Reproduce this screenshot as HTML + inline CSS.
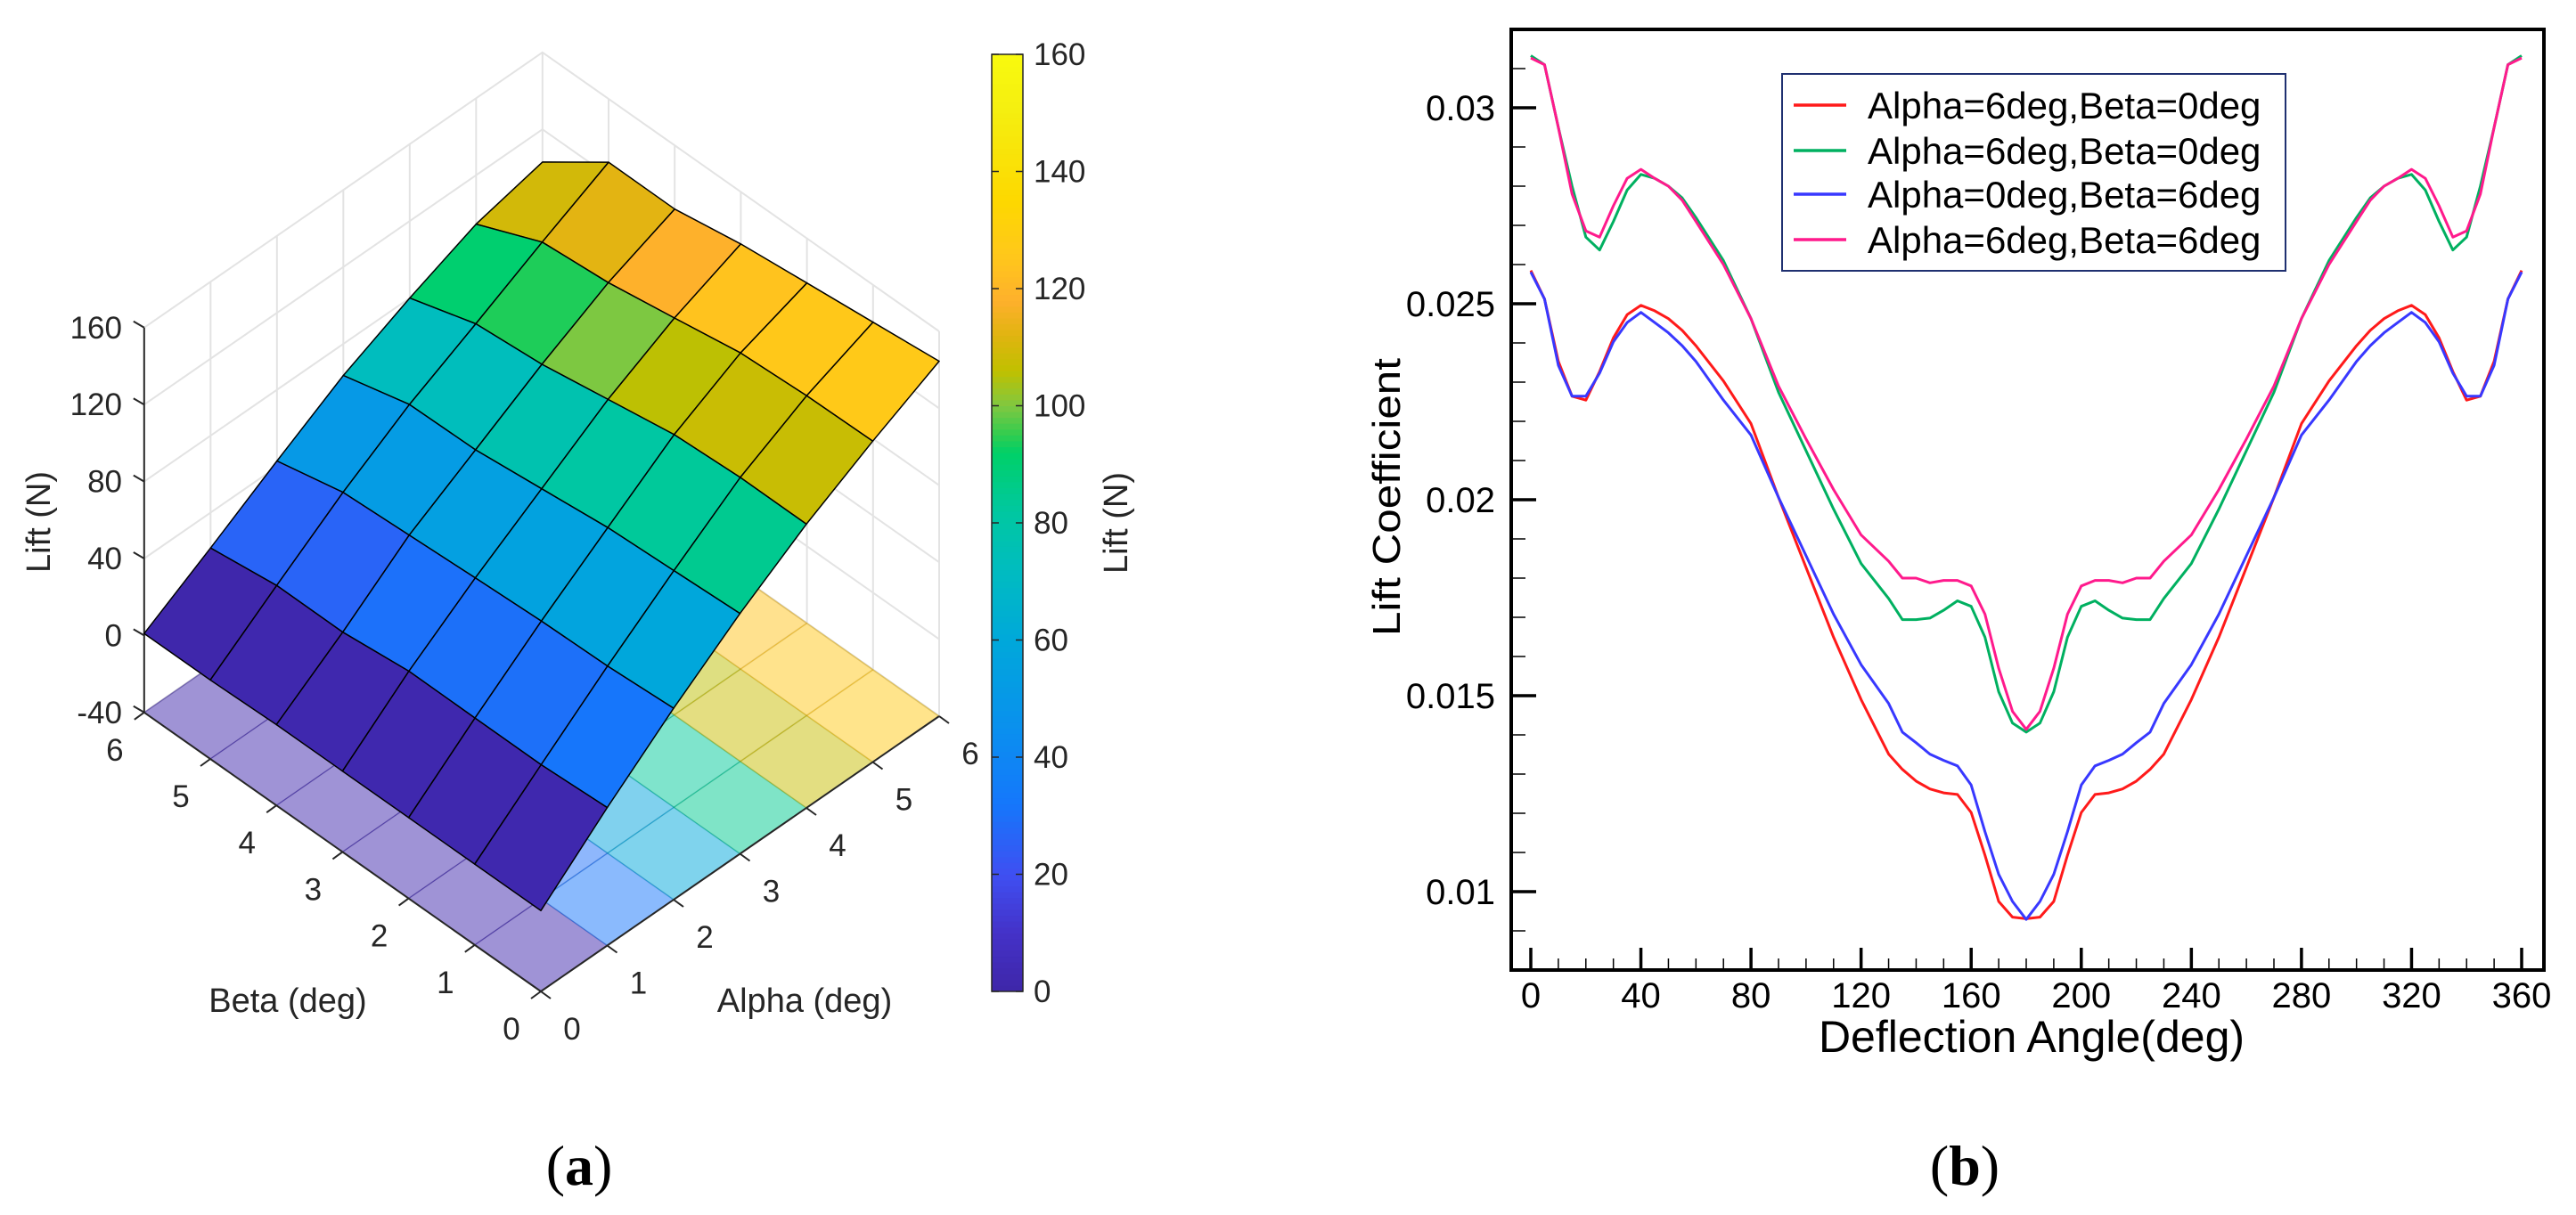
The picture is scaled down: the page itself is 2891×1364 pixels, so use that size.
<!DOCTYPE html>
<html><head><meta charset="utf-8"><style>
html,body{margin:0;padding:0;background:#fff;}
svg{display:block;}
text{font-family:"Liberation Sans",Arial,sans-serif;}
</style></head>
<body>
<svg id="fig" width="2891" height="1364" viewBox="0 0 2891 1364" xmlns="http://www.w3.org/2000/svg">
<rect width="2891" height="1364" fill="#fff"/>
<g id="pa"></g>
<g id="pb"></g>
<text x="650" y="1330" text-anchor="middle" font-family="Liberation Serif, serif" font-size="64" style="font-family:'Liberation Serif',serif">(<tspan font-weight="bold">a</tspan>)</text>
<text x="2205" y="1330" text-anchor="middle" font-size="64" style="font-family:'Liberation Serif',serif">(<tspan font-weight="bold">b</tspan>)</text>
</svg>
<script>
// ---------- Panel (a) data ----------
const alphaVals = [0,1,2,3,4,5,6];
const betaVals = [0,1,2,3,4,5,6];
// liftGrid[alphaIndex][betaIndex]
const liftGrid0 = [2,2,2,2,2,1,1];
const liftGrid1 = [31.7,29.8,29.9,30.1,26.2,26.3,21.6];
const liftGrid2 = [59.5,57.2,56.5,54.7,52.8,50.9,43];
const liftGrid3 = [84.9,83,81.2,77.2,73.3,72.7,63.6];
const liftGrid4 = [107.5,107.6,105.7,99.8,93.9,90.8,80];
const liftGrid5 = [126.8,126.2,124.3,118.3,112.5,109.4,94.6];
const liftGrid6 = [144.5,140.6,136.8,132.9,126.9,127.1,103];
const liftGrid = [liftGrid0,liftGrid1,liftGrid2,liftGrid3,liftGrid4,liftGrid5,liftGrid6];
const zTicks = [-40,0,40,80,120,160];
const cbTicks = [0,20,40,60,80,100,120,140,160];
const cmapVals = [0,10,20,32,45,60,72,82,92,95,100,106,112,118,126,135,150,160];
const cmapCols = ['#3e26a8','#4432c8','#3f4ff2','#1577fb','#0a90ee','#00a8da','#00bcc0','#00c8a0','#00d068','#30cc50','#80c840','#c0c000','#e0b410','#feb02c','#ffc81a','#fdd800','#f5ee10','#f8fa0e'];

// ---------- Panel (b) data ----------
const angles = [0,5,10,15,20,25,30,35,40,45,50,55,60,70,80,90,100,110,120,130,135,140,145,150,155,160,165,170,175,180,185,190,195,200,205,210,215,220,225,230,240,250,260,270,280,290,300,305,310,315,320,325,330,335,340,345,350,355,360];
const redA6B0 = [.02585,.02512,.02353,.02264,.02254,.02327,.02413,.02472,.02496,.02482,.02462,.02432,.02393,.02303,.02194,.02006,.01827,.01649,.0149,.01351,.01312,.01282,.01262,.01252,.01248,.01202,.01093,.00975,.00935,.00931,.00935,.00975,.01093,.01202,.01248,.01252,.01262,.01282,.01312,.01351,.0149,.01649,.01827,.02006,.02194,.02303,.02393,.02432,.02462,.02482,.02496,.02472,.02413,.02327,.02254,.02264,.02353,.02512,.02585];
const greenA6B0 = [.03133,.0311,.0295,.0280,.0267,.02637,.0271,.0279,.0283,.0282,.0280,.0277,.0272,.0261,.02462,.02274,.02125,.01976,.01837,.01748,.01694,.01694,.01698,.01718,.01742,.01728,.01649,.0151,.0143,.01407,.0143,.0151,.01649,.01728,.01742,.01718,.01698,.01694,.01694,.01748,.01837,.01976,.02125,.02274,.02462,.0261,.0272,.0277,.0280,.0282,.0283,.0279,.0271,.02637,.0267,.0280,.0295,.0311,.03133];
const blueA0B6 = [.02581,.02512,.02343,.02264,.02264,.02323,.02403,.02452,.02478,.02452,.02426,.02393,.02353,.02254,.02165,.02006,.01857,.01708,.01579,.0148,.01407,.0138,.01351,.01335,.01321,.01272,.01153,.01044,.00975,.00929,.00975,.01044,.01153,.01272,.01321,.01335,.01351,.0138,.01407,.0148,.01579,.01708,.01857,.02006,.02165,.02254,.02353,.02393,.02426,.02452,.02478,.02452,.02403,.02323,.02264,.02264,.02343,.02512,.02581];
const pinkA6B6 = [.03127,.0311,.0295,.0278,.02686,.0267,.0275,.0282,.02843,.0282,.0280,.02764,.0271,.0260,.02462,.0229,.02155,.02026,.0191,.01843,.0180,.0180,.01788,.01794,.01794,.0178,.01708,.0157,.0146,.01414,.0146,.0157,.01708,.0178,.01794,.01794,.01788,.0180,.0180,.01843,.0191,.02026,.02155,.0229,.02462,.0260,.0271,.02764,.0280,.0282,.02843,.0282,.0275,.0267,.02686,.0278,.0295,.0311,.03127];
const xTicks = [0,40,80,120,160,200,240,280,320,360];
const yTicks = [0.01,0.015,0.02,0.025,0.03];
const yTickLabels = ['0.01','0.015','0.02','0.025','0.03'];
const legendLabels = ['Alpha=6deg,Beta=0deg','Alpha=6deg,Beta=0deg','Alpha=0deg,Beta=6deg','Alpha=6deg,Beta=6deg'];
const seriesColors = ['#ff1a1a','#00b060','#3838ff','#ff1a8c'];

const NS='http://www.w3.org/2000/svg';
function mk(parent,tag,attrs,txt){const e=document.createElementNS(NS,tag);for(const k in attrs)e.setAttribute(k,attrs[k]);if(txt!==undefined)e.textContent=txt;parent.appendChild(e);return e;}
function hex(c){return [parseInt(c.substr(1,2),16),parseInt(c.substr(3,2),16),parseInt(c.substr(5,2),16)];}
function cmap(v){
  if(v<=cmapVals[0])return cmapCols[0];
  for(let i=1;i<cmapVals.length;i++){if(v<=cmapVals[i]){const t=(v-cmapVals[i-1])/(cmapVals[i]-cmapVals[i-1]);const a=hex(cmapCols[i-1]),b=hex(cmapCols[i]);return 'rgb('+a.map((x,k)=>Math.round(x+(b[k]-x)*t)).join(',')+')';}}
  return cmapCols[cmapCols.length-1];
}
// ---------- Panel (a) ----------
const pa=document.getElementById('pa');
function P(a,b,z){return [607+74.5*a-74.2*b, 1113-51.5*a-52.2*b-2.16*(z+40)];}
function pt(p){return p[0].toFixed(1)+','+p[1].toFixed(1);}
const gridCol='#e3e3e3';
// back wall gridlines
const walls=mk(pa,'g',{});


for(const z of zTicks){
  let l=mk(walls,'polyline',{points:pt(P(0,6,z))+' '+pt(P(6,6,z))+' '+pt(P(6,0,z)),fill:'none',stroke:gridCol,'stroke-width':2});
  
  
}
for(const a of alphaVals){ if(a===0)continue;
  let l=mk(walls,'line',{x1:P(a,6,-40)[0],y1:P(a,6,-40)[1],x2:P(a,6,160)[0],y2:P(a,6,160)[1],stroke:gridCol,'stroke-width':2});
  
  
}
for(const b of betaVals){ if(b===6)continue;
  let l=mk(walls,'line',{x1:P(6,b,-40)[0],y1:P(6,b,-40)[1],x2:P(6,b,160)[0],y2:P(6,b,160)[1],stroke:gridCol,'stroke-width':2});
  
  
}
// floor projection
const floor=mk(pa,'g',{});


for(let i=0;i<6;i++)for(let j=0;j<6;j++){
  const c=mk(floor,'polygon',{points:[P(alphaVals[i],betaVals[j],-40),P(alphaVals[i+1],betaVals[j],-40),P(alphaVals[i+1],betaVals[j+1],-40),P(alphaVals[i],betaVals[j+1],-40)].map(pt).join(' '),fill:cmap(liftGrid[i][j]),'fill-opacity':0.5,stroke:cmap(liftGrid[i][j]),'stroke-opacity':0.5,'stroke-width':1});
  
  
}
for(let k=1;k<=6;k++){
  let l=mk(floor,'line',{x1:P(k,0,-40)[0],y1:P(k,0,-40)[1],x2:P(k,6,-40)[0],y2:P(k,6,-40)[1],stroke:'#000','stroke-opacity':0.08,'stroke-width':2});
  
  
  let m=mk(floor,'line',{x1:P(0,k,-40)[0],y1:P(0,k,-40)[1],x2:P(6,k,-40)[0],y2:P(6,k,-40)[1],stroke:'#000','stroke-opacity':0.08,'stroke-width':2});
  
  
}
// axes
const ax=mk(pa,'g',{stroke:'#262626','stroke-width':2});


let zl=mk(ax,'line',{x1:P(0,6,-40)[0],y1:P(0,6,-40)[1],x2:P(0,6,160)[0],y2:P(0,6,160)[1]});


let bl=mk(ax,'line',{x1:P(0,0,-40)[0],y1:P(0,0,-40)[1],x2:P(0,6,-40)[0],y2:P(0,6,-40)[1]});


let al=mk(ax,'line',{x1:P(0,0,-40)[0],y1:P(0,0,-40)[1],x2:P(6,0,-40)[0],y2:P(6,0,-40)[1]});


for(const z of zTicks){
  const p=P(0,6,z);
  let t=mk(ax,'line',{x1:p[0],y1:p[1],x2:p[0]-12,y2:p[1]-7});
  
  
  let tx=mk(pa,'text',{x:137,y:p[1]+12,'text-anchor':'end','font-size':35,fill:'#262626'},String(z));
  
  
}
for(const b of betaVals){
  const p=P(0,b,-40);
  let t=mk(ax,'line',{x1:p[0],y1:p[1],x2:p[0]-11,y2:p[1]+8});
  
  
  let tx=mk(pa,'text',{x:p[0]-33,y:p[1]+54,'text-anchor':'middle','font-size':35,fill:'#262626'},String(b));
  
  
}
for(const a of alphaVals){
  const p=P(a,0,-40);
  let t=mk(ax,'line',{x1:p[0],y1:p[1],x2:p[0]+11,y2:p[1]+8});
  
  
  let tx=mk(pa,'text',{x:p[0]+35,y:p[1]+54,'text-anchor':'middle','font-size':35,fill:'#262626'},String(a));
  
  
}
// surface
const surf=mk(pa,'g',{});


const cells=[];
for(let i=0;i<6;i++)for(let j=0;j<6;j++)cells.push([i,j]);
cells.sort((u,v)=>(v[0]+v[1])-(u[0]+u[1]));
for(const [i,j] of cells){
  const pts=[P(alphaVals[i],betaVals[j],liftGrid[i][j]),P(alphaVals[i+1],betaVals[j],liftGrid[i+1][j]),P(alphaVals[i+1],betaVals[j+1],liftGrid[i+1][j+1]),P(alphaVals[i],betaVals[j+1],liftGrid[i][j+1])];
  const c=mk(surf,'polygon',{points:pts.map(pt).join(' '),fill:cmap(liftGrid[i][j]),stroke:'#000','stroke-width':1.5,'stroke-linejoin':'round'});
  
  
}
let t1=mk(pa,'text',{x:0,y:0,'text-anchor':'middle','font-size':38,fill:'#262626',transform:'translate(56,586) rotate(-90)'},'Lift (N)');


let t2=mk(pa,'text',{x:323,y:1136,'text-anchor':'middle','font-size':38,fill:'#262626'},'Beta (deg)');


let t3=mk(pa,'text',{x:903,y:1136,'text-anchor':'middle','font-size':38,fill:'#262626'},'Alpha (deg)');


// colorbar
const cb=mk(pa,'g',{});


const cbX=1113,cbW=35,cbTop=61,cbBot=1113;
function cbY(v){return cbBot-(v-0)/160*(cbBot-cbTop);}
for(let v=0;v<160;v+=1){
  const r=mk(cb,'rect',{x:cbX,y:cbY(v+1)-0.5,width:cbW,height:(cbBot-cbTop)/160+1,fill:cmap(v+0.5)});
}
let cbr=mk(cb,'rect',{x:cbX,y:cbTop,width:cbW,height:cbBot-cbTop,fill:'none',stroke:'#262626','stroke-width':1.5});


for(const v of cbTicks){
  const y=cbY(v);
  mk(cb,'line',{x1:cbX+cbW-8,y1:y,x2:cbX+cbW,y2:y,stroke:'#262626','stroke-width':1.5});
  mk(cb,'line',{x1:cbX,y1:y,x2:cbX+8,y2:y,stroke:'#262626','stroke-width':1.5});
  let tx=mk(cb,'text',{x:1160,y:y+12,'font-size':35,fill:'#262626'},String(v));
  
  
}
let t4=mk(pa,'text',{x:0,y:0,'text-anchor':'middle','font-size':38,fill:'#262626',transform:'translate(1265,587) rotate(-90)'},'Lift (N)');



// ---------- Panel (b) ----------
const pb=document.getElementById('pb');
const fx0=1696,fx1=2855,fy0=33,fy1=1089;
function xs(d){return 1718+d*(2830-1718)/360;}
function ys(v){return 121+(0.03-v)/0.005*220;}
const tk=mk(pb,'g',{stroke:'#000'});


for(let d=0;d<=360;d+=10){
  const major=d%40===0;
  mk(tk,'line',{x1:xs(d),y1:fy1,x2:xs(d),y2:fy1-(major?25:13),'stroke-width':major?3.5:1.5});
}
for(let k=8;k<=32;k++){
  const v=k/1000;const major=k%5===0;
  mk(tk,'line',{x1:fx0,y1:ys(v),x2:fx0+(major?28:16),y2:ys(v),'stroke-width':major?3.5:1.5});
}
xTicks.forEach(d=>{
  let tx=mk(pb,'text',{x:xs(d),y:1131,'text-anchor':'middle','font-size':40,fill:'#000'},String(d));
  
  
});
yTicks.forEach((v,i)=>{
  let tx=mk(pb,'text',{x:1678,y:ys(v)+14,'text-anchor':'end','font-size':40,fill:'#000'},yTickLabels[i]);
  
  
});
const seriesList=[redA6B0,blueA0B6,greenA6B0,pinkA6B6];
const seriesCol=[seriesColors[0],seriesColors[2],seriesColors[1],seriesColors[3]];
const seriesNames=['series-alpha6-beta0-red','series-alpha0-beta6-blue','series-alpha6-beta0-green','series-alpha6-beta6-pink'];
seriesList.forEach((s,k)=>{
  const pts=s.map((v,i)=>xs(angles[i]).toFixed(1)+','+ys(v).toFixed(1)).join(' ');
  let pl=mk(pb,'polyline',{points:pts,fill:'none',stroke:seriesCol[k],'stroke-width':3,'stroke-linejoin':'round'});
  
  
});
let fr=mk(pb,'rect',{x:fx0,y:fy0,width:fx1-fx0,height:fy1-fy0,fill:'none',stroke:'#000','stroke-width':4});


// legend
const lg=mk(pb,'g',{});


let lr=mk(lg,'rect',{x:2000,y:83,width:565,height:221,fill:'#fff',stroke:'#1f3070','stroke-width':2});


const legY=[118,169,218,269];
legendLabels.forEach((lab,i)=>{
  const e=mk(lg,'g',{});
  
  
  mk(e,'line',{x1:2013,y1:legY[i],x2:2072,y2:legY[i],stroke:seriesColors[i],'stroke-width':3.5});
  mk(e,'text',{x:2096,y:legY[i]+15,'font-size':42,fill:'#000'},lab);
});
let xt=mk(pb,'text',{x:2280,y:1181,'text-anchor':'middle','font-size':50,fill:'#000'},'Deflection Angle(deg)');


let yt=mk(pb,'text',{x:0,y:0,'text-anchor':'middle','font-size':44,fill:'#000',textLength:312,lengthAdjust:'spacingAndGlyphs',transform:'translate(1571,558) rotate(-90)'},'Lift Coefficient');


</script>
</body></html>
